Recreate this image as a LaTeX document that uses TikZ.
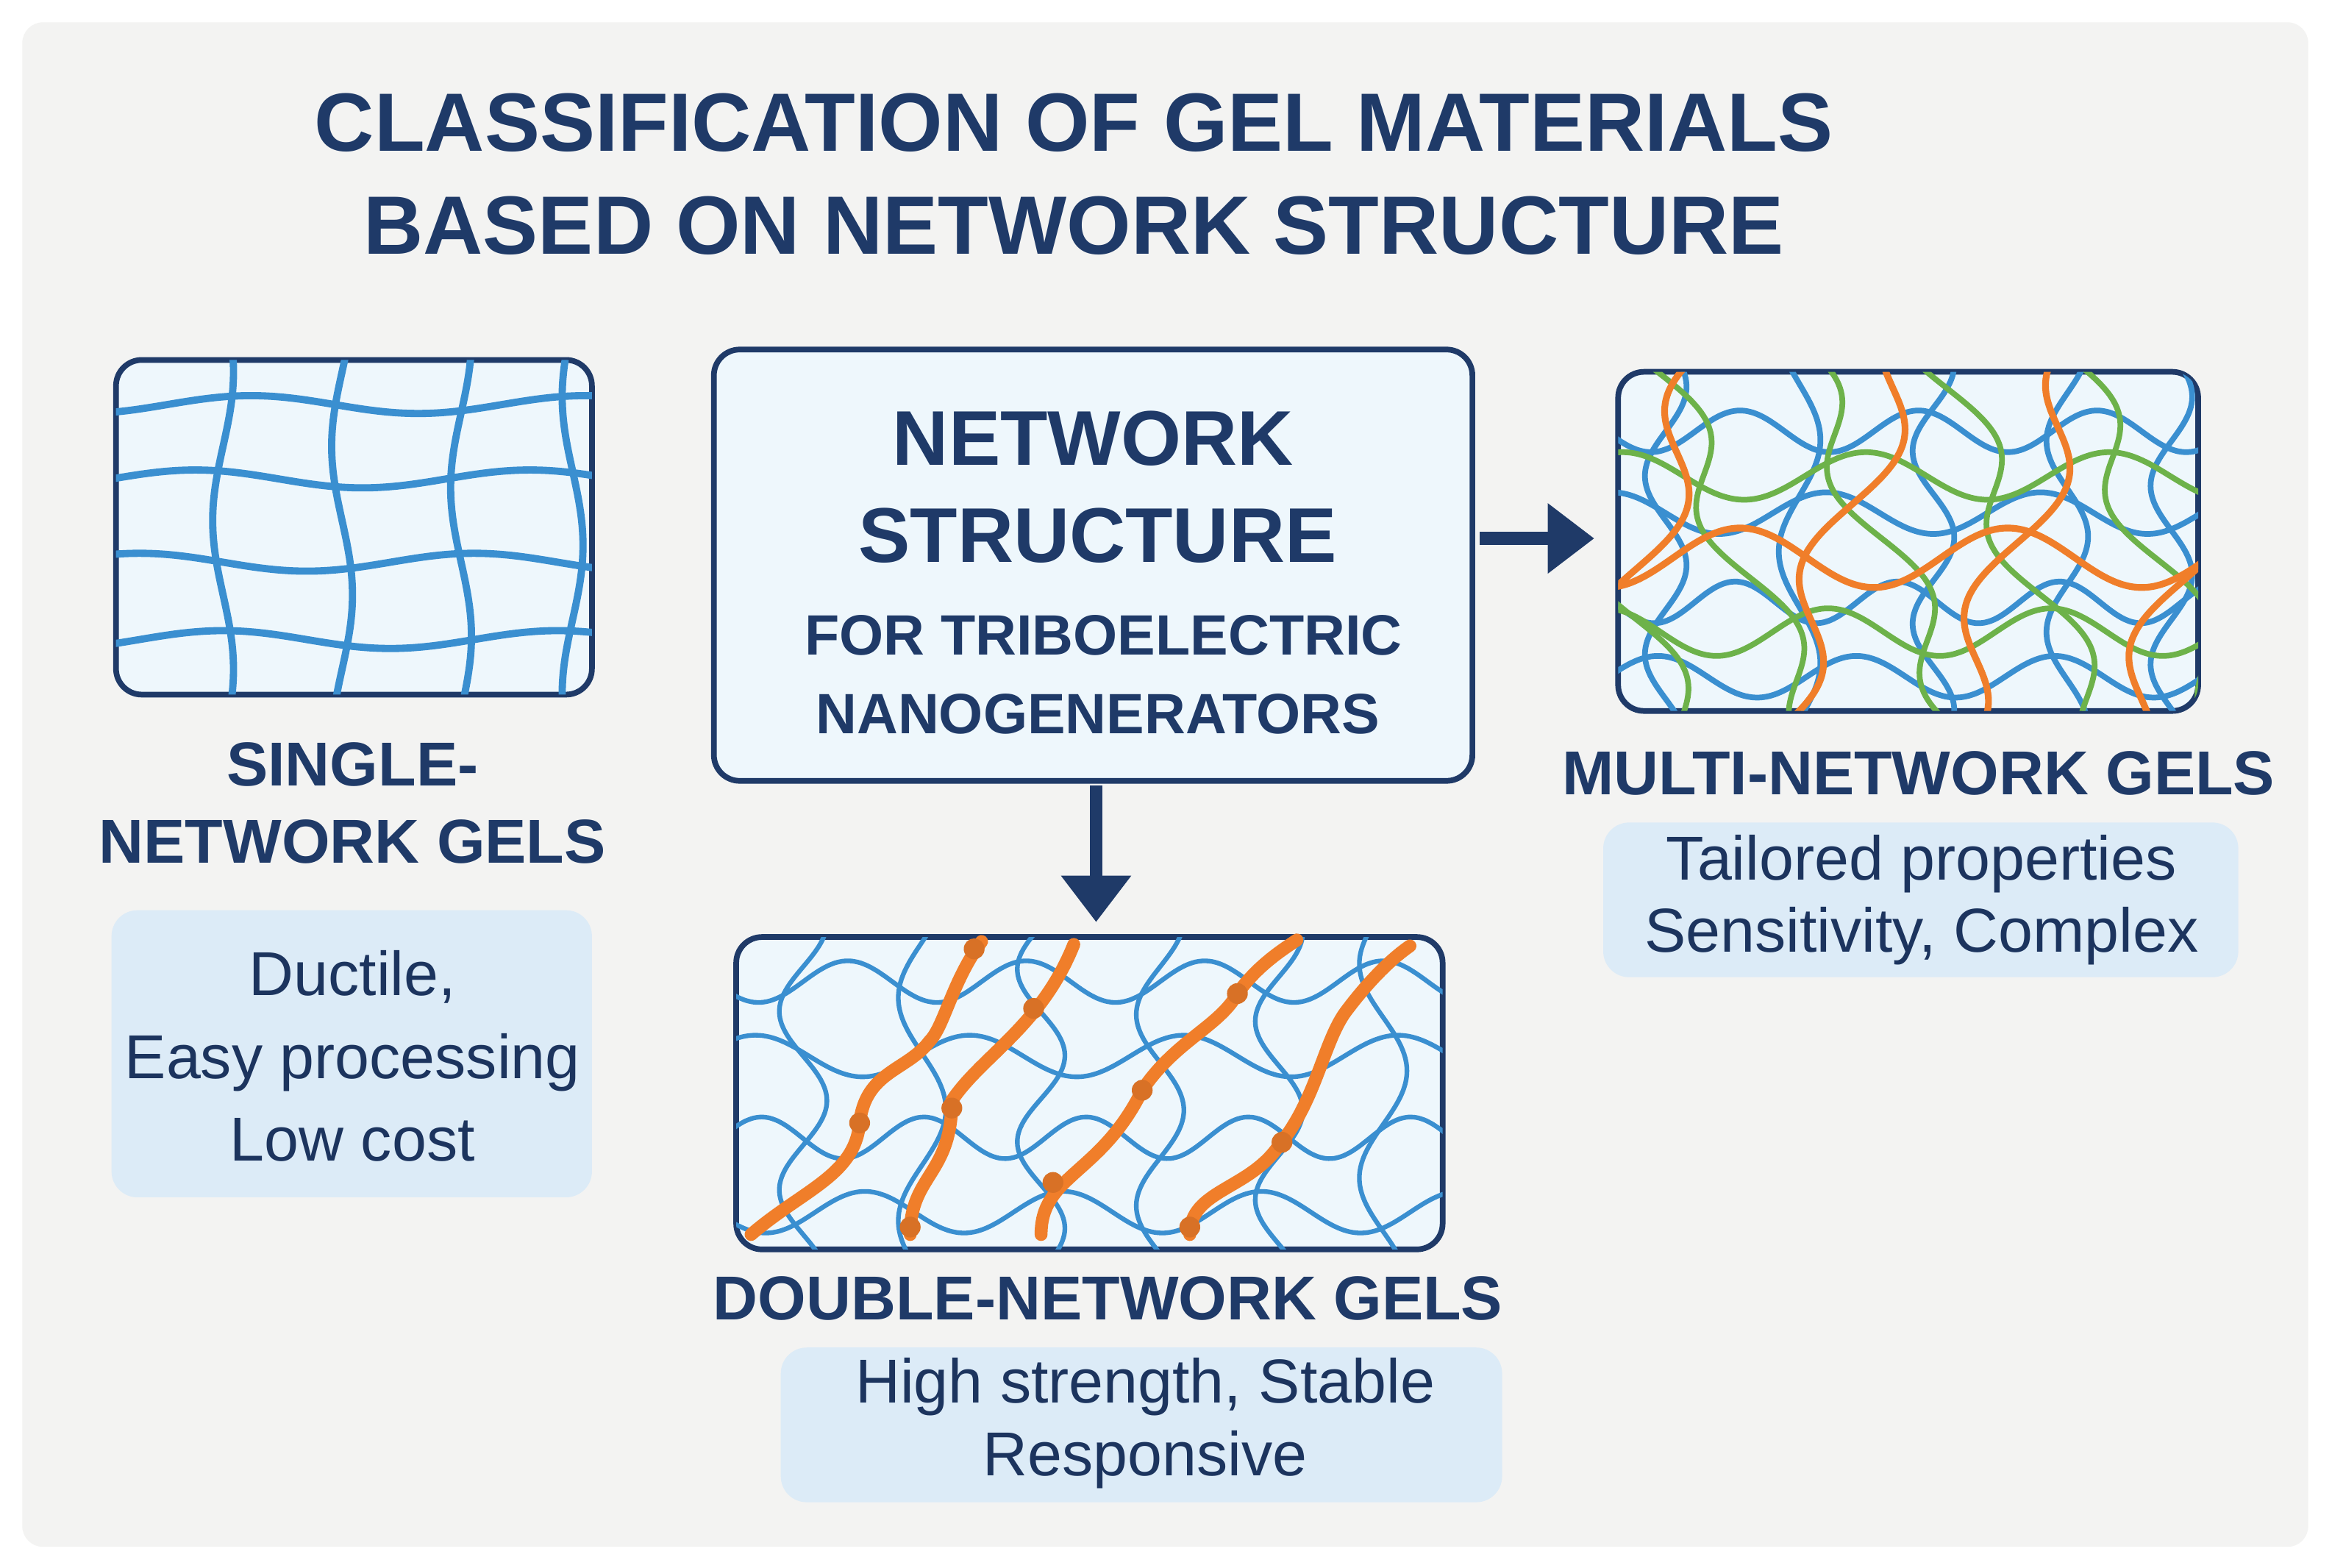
\documentclass[tikz,border=0pt]{standalone}
\usepackage{fontspec}
\setmainfont{Liberation Sans}
\usetikzlibrary{arrows.meta}
\definecolor{navy}{HTML}{1F3A68}
\definecolor{bgc}{HTML}{F3F3F2}
\definecolor{boxf}{HTML}{EEF7FC}
\definecolor{infof}{HTML}{DCEBF7}
\definecolor{bl}{HTML}{3A8FD0}
\definecolor{gr}{HTML}{6DB24A}
\definecolor{or}{HTML}{F07E2A}
\begin{document}
\begin{tikzpicture}[x=0.020224cm,y=-0.020224cm,
  panel/.style={draw=navy,line width=2.2pt,fill=boxf,rounded corners=10pt},
  info/.style={fill=infof,rounded corners=10pt},
  lab/.style={text=navy,font=\bfseries\fontsize{24}{30}\selectfont,align=center},
  itxt/.style={text=navy!90!black,font=\fontsize{24}{28}\selectfont,align=center},
  arr/.style={navy,line width=5pt,-{Triangle[length=18pt,width=26pt]}},
  net/.style={line width=2.2pt,line cap=round}]
\useasboundingbox (0,0) rectangle (1568,1054);
\fill[white] (0,0) rectangle (1568,1054);
\fill[bgc,rounded corners=8pt] (15,15) rectangle (1552,1040);
% title
\node[text=navy,font=\bfseries\fontsize{32}{40}\selectfont,align=center] (title) at (722,117) {CLASSIFICATION OF GEL MATERIALS\\BASED ON NETWORK STRUCTURE};
% center
\draw[panel] (480,235) rectangle (990,525);
\node[text=navy,font=\bfseries\fontsize{30}{36}\selectfont] (n1) at (735,295) {NETWORK};
\node[text=navy,font=\bfseries\fontsize{30}{36}\selectfont] (n2) at (738,360) {STRUCTURE};
\node[text=navy,font=\bfseries\fontsize{22}{28}\selectfont] (n3) at (742,427) {FOR TRIBOELECTRIC};
\node[text=navy,font=\bfseries\fontsize{22}{28}\selectfont] (n4) at (738,480) {NANOGENERATORS};
\coordinate (ra) at (995,362); \coordinate (rb) at (1072,362);
\draw[arr] (ra) -- (rb);
\coordinate (da) at (737,528); \coordinate (db) at (737,620);
\draw[arr] (da) -- (db);
% single
\draw[panel] (78,242) rectangle (398,467);
\begin{scope}
\clip[rounded corners=10pt] (78,242) rectangle (398,467);
\foreach \yy/\p in {272/0,322/60,378/120,430/30}
  \draw[net,bl,line width=2.8pt] plot[variable=\t,domain=70:410,samples=60,smooth] (\t,{\yy+6*sin(1.6*\t+\p)});
\foreach \xx/\p in {150/0,230/90,310/40,385/150}
  \draw[net,bl,line width=2.8pt] plot[variable=\t,domain=235:475,samples=60,smooth] ({\xx+7*sin(1.8*\t+\p)},\t);
\end{scope}
\node[lab] (sl) at (237,540) {SINGLE-\\NETWORK GELS};
\fill[info] (75,612) rectangle (398,805);
\node[itxt,font=\fontsize{24}{26}\selectfont] (si) at (237,710) {Ductile,\\[6pt]Easy processing\\[6pt]Low cost};
% multi
\draw[panel] (1088,250) rectangle (1478,478);
\begin{scope}
\clip[rounded corners=10pt] (1088,250) rectangle (1478,478);
\foreach \yy/\p/\f in {290/0/3,345/80/2.5,405/20/3.3,455/140/2.7}
  \draw[net,bl] plot[variable=\t,domain=1080:1490,samples=80,smooth] (\t,{\yy+14*sin(\f*\t+\p)});
\foreach \xx/\p/\f in {1120/30/3,1210/100/2.4,1300/50/3.1,1390/160/2.8,1460/10/3}
  \draw[net,bl] plot[variable=\t,domain=240:490,samples=60,smooth] ({\xx+14*sin(\f*\t+\p)},\t);
\foreach \xx/\p in {1100/0,1190/70,1290/140,1380/40,1470/100}
  \draw[net,gr] plot[variable=\t,domain=240:490,samples=60,smooth] ({\xx+(\t-240)*0.45-80+18*sin(2.6*\t+\p)},\t);
\draw[net,gr] plot[variable=\t,domain=1080:1490,samples=80,smooth] (\t,{320+16*sin(2.2*\t+30)});
\draw[net,gr] plot[variable=\t,domain=1080:1490,samples=80,smooth] (\t,{425+16*sin(2.4*\t+200)});
\foreach \xx/\p in {1150/20,1280/120,1400/60,1520/0}
  \draw[net,or,line width=2.6pt] plot[variable=\t,domain=240:490,samples=60,smooth] ({\xx-(\t-240)*0.35+20*sin(2.3*\t+\p)},\t);
\draw[net,or,line width=2.6pt] plot[variable=\t,domain=1080:1490,samples=80,smooth] (\t,{375+20*sin(2*\t+90)});
\end{scope}
\node[lab] (ml) at (1290,520) {MULTI-NETWORK GELS};
\fill[info] (1078,553) rectangle (1505,657);
\node[itxt] (mi) at (1292,605) {Tailored properties\\[0pt]Sensitivity, Complex};
% double
\draw[panel] (495,630) rectangle (970,840);
\begin{scope}
\clip[rounded corners=10pt] (495,630) rectangle (970,840);
\foreach \yy/\p/\f in {660/0/3,710/80/2.5,765/20/3.3,815/140/2.7}
  \draw[net,bl,line width=1.8pt] plot[variable=\t,domain=490:980,samples=90,smooth] (\t,{\yy+14*sin(\f*\t+\p)});
\foreach \xx/\p/\f in {540/30/3,620/100/2.4,700/50/3.1,780/160/2.8,860/10/3,930/90/2.5}
  \draw[net,bl,line width=1.8pt] plot[variable=\t,domain=625:845,samples=60,smooth] ({\xx+16*sin(\f*\t+\p)},\t);
\end{scope}
\draw[net,or,line width=5pt] (505,830) .. controls (540,800) and (575,790) .. (578,755) .. controls (582,720) and (610,720) .. (625,700) .. controls (635,690) and (640,660) .. (660,633);
\draw[net,or,line width=5pt] (612,830) .. controls (612,790) and (640,790) .. (640,740) .. controls (660,710) and (700,690) .. (722,635);
\draw[net,or,line width=5pt] (700,830) .. controls (700,790) and (740,790) .. (768,733) .. controls (790,700) and (820,690) .. (832,668) .. controls (845,650) and (860,640) .. (872,632);
\draw[net,or,line width=5pt] (800,830) .. controls (800,800) and (840,800) .. (860,770) .. controls (885,740) and (890,700) .. (905,680) .. controls (920,660) and (935,645) .. (948,636);
\foreach \p in {(612,825),(708,795),(800,825),(862,768),(768,733),(832,668),(695,678),(655,638),(578,755),(640,745)}
  \fill[or!90!black] \p circle (7);
\node[lab] (dl) at (745,873) {DOUBLE-NETWORK GELS};
\fill[info] (525,906) rectangle (1010,1010);
\node[itxt] (di) at (770,957) {High strength, Stable\\[0pt]Responsive};
\end{tikzpicture}
\end{document}
